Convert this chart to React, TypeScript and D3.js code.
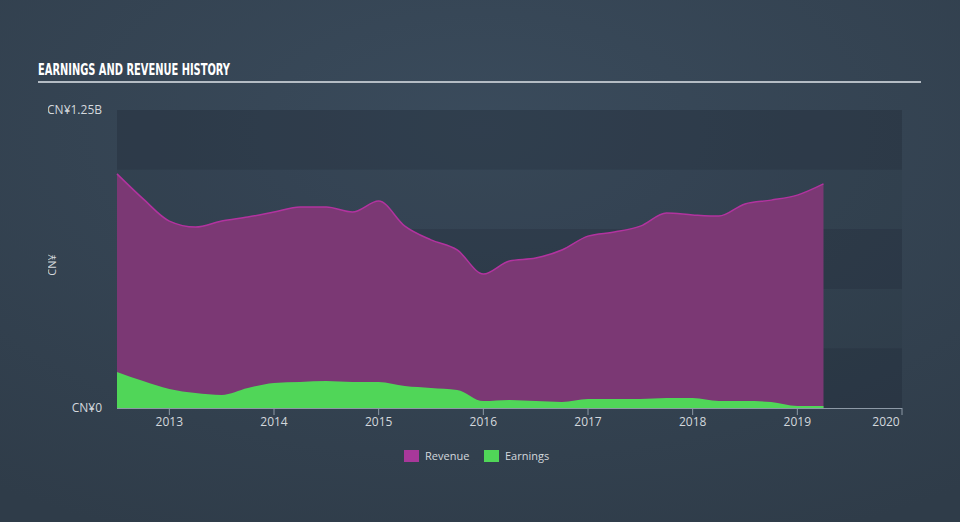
import React from "react";
import * as d3 from "d3";

const quarters = [
  2012.5, 2012.75, 2013.0, 2013.25, 2013.5, 2013.75, 2014.0, 2014.25, 2014.5, 2014.75,
  2015.0, 2015.25, 2015.5, 2015.75, 2016.0, 2016.25, 2016.5, 2016.75, 2017.0, 2017.25,
  2017.5, 2017.75, 2018.0, 2018.25, 2018.5, 2018.75, 2019.0, 2019.25,
];
const revenue = [
  0.982, 0.877, 0.784, 0.759, 0.784, 0.801, 0.822, 0.843, 0.843, 0.822,
  0.868, 0.763, 0.705, 0.663, 0.562, 0.617, 0.629, 0.663, 0.721, 0.738,
  0.763, 0.818, 0.81, 0.805, 0.856, 0.872, 0.893, 0.94,
];
const earnings = [
  0.151, 0.113, 0.08, 0.063, 0.055, 0.084, 0.105, 0.109, 0.113, 0.109,
  0.109, 0.092, 0.084, 0.076, 0.029, 0.034, 0.029, 0.025, 0.038, 0.038,
  0.038, 0.042, 0.042, 0.029, 0.029, 0.025, 0.008, 0.008,
];
const yearTicks = [2013, 2014, 2015, 2016, 2017, 2018, 2019, 2020];
const bandEdges = [0, 0.25, 0.5, 0.75, 1.0, 1.25];

const W = 960;
const H = 522;
const FONT = "'Open Sans', 'DejaVu Sans', sans-serif";

export default function App() {
  const x = d3.scaleLinear().domain([2012.5, 2020]).range([117, 902]);
  const y = d3.scaleLinear().domain([0, 1.25]).range([408, 110]);
  const curve = d3.curveMonotoneX;

  const revArea = d3
    .area<number>()
    .x((_, i) => x(quarters[i]))
    .y0(y(0))
    .y1((d) => y(d))
    .curve(curve)(revenue) as string;
  const revLine = d3
    .line<number>()
    .x((_, i) => x(quarters[i]))
    .y((d) => y(d))
    .curve(curve)(revenue) as string;
  const earnArea = d3
    .area<number>()
    .x((_, i) => x(quarters[i]))
    .y0(y(0))
    .y1((d) => y(d))
    .curve(curve)(earnings) as string;

  return (
    <svg width={W} height={H} style={{ position: "absolute", left: 0, top: 0, display: "block" }}>
      <defs>
        <radialGradient id="bg" cx="0.5" cy="0.25" r="0.85">
          <stop offset="0" stopColor="#3a4b5c" />
          <stop offset="1" stopColor="#2f3c49" />
        </radialGradient>
        <clipPath id="ylabclip">
          <rect x={48} y={0} width={200} height={H} />
        </clipPath>
      </defs>
      <rect x={0} y={0} width={W} height={H} fill="url(#bg)" />

      {/* title */}
      <text
        x={38}
        y={75}
        fill="#ffffff"
        fontFamily="'DejaVu Sans Condensed', 'Liberation Sans Narrow', sans-serif"
        fontWeight="bold"
        fontSize={15}
        textLength={192}
        lengthAdjust="spacingAndGlyphs"
      >
        EARNINGS AND REVENUE HISTORY
      </text>
      <rect x={38} y={81} width={883} height={2} fill="#b4bcc4" />

      {/* bands */}
      {bandEdges.slice(0, -1).map((b, i) => (
        <rect
          key={i}
          x={x(2012.5)}
          y={y(bandEdges[i + 1])}
          width={x(2020) - x(2012.5)}
          height={y(b) - y(bandEdges[i + 1])}
          fill={i % 2 === 0 ? "rgba(28,38,50,0.32)" : "rgba(28,38,50,0.1)"}
        />
      ))}

      {/* areas */}
      <path d={revArea} fill="#7b3874" />
      <path d={revLine} fill="none" stroke="#b2339f" strokeWidth={1.5} />
      <path d={earnArea} fill="#50d658" />

      {/* y labels */}
      <g clipPath="url(#ylabclip)" fontFamily={FONT} fontSize={12} fill="#d3d8dd">
        <text x={102} y={y(1.25) + 4} textAnchor="end">CN¥1.25B</text>
        <text x={102} y={y(0) + 4} textAnchor="end">CN¥0</text>
        <text
          transform={`translate(56,${y(0.6)}) rotate(-90)`}
          textAnchor="middle"
          fontSize={11}
        >
          CN¥
        </text>
      </g>

      {/* x axis */}
      <line x1={x(2012.5)} x2={x(2020)} y1={408.5} y2={408.5} stroke="#8d99a6" strokeWidth={1} />
      {yearTicks.map((t) => (
        <g key={t}>
          <line x1={x(t)} x2={x(t)} y1={408} y2={415} stroke="#8d99a6" strokeWidth={1} />
          <text
            x={t === 2020 ? x(t) - 16 : x(t)}
            y={426}
            textAnchor="middle"
            fontFamily={FONT}
            fontSize={12}
            fill="#d3d8dd"
          >
            {t}
          </text>
        </g>
      ))}

      {/* legend */}
      <rect x={404} y={450} width={15} height={12} fill="#a8389a" />
      <text x={425} y={460} fontFamily={FONT} fontSize={11} fill="#d3d8dd">Revenue</text>
      <rect x={484} y={450} width={15} height={12} fill="#50d658" />
      <text x={505} y={460} fontFamily={FONT} fontSize={11} fill="#d3d8dd">Earnings</text>
    </svg>
  );
}
